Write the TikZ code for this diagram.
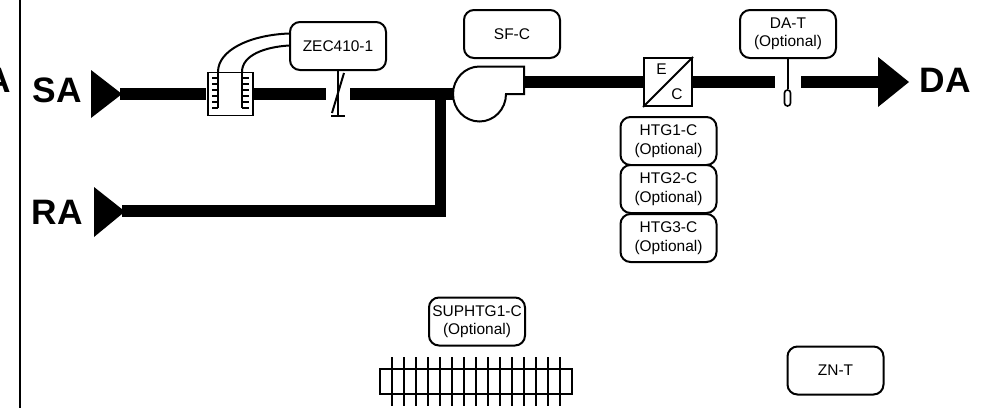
\documentclass[tikz,border=0pt]{standalone}
\usepackage{fontspec}
\setmainfont{Liberation Sans}
\tikzset{
  ctrl/.style={draw=black,line width=1.5pt,rounded corners=7.5pt,fill=white,minimum width=72pt,minimum height=36pt,inner sep=0pt,align=center,font=\fontsize{11.6}{13.8}\selectfont},
  big/.style={inner sep=0pt,font=\fontsize{26.5}{28}\selectfont\bfseries},
  duct/.style={line width=8.8pt,line cap=butt},
  wire/.style={line width=1.5pt},
  thick wire/.style={line width=2pt},
  thin wire/.style={line width=1.2pt},
  head/.style={fill=black,draw=none},
  ltr/.style={inner sep=0pt,font=\fontsize{11.6}{14}\selectfont}
}
\begin{document}
\begin{tikzpicture}[x=0.75pt,y=-0.75pt]
\useasboundingbox (0,0) rectangle (993,408);
% frame line
\coordinate (ft) at (20,0); \coordinate (fb) at (20,408);
\draw[wire] (ft) -- (fb);
\begin{scope}
\clip (0,0) rectangle (19,408);
\node[big,anchor=east] (cutda) at (11,80.5) {A};
\end{scope}
% labels
\node[big] (salbl) at (57,90.5) {SA};
\node[big] (ralbl) at (57.5,212.5) {RA};
\node[big] (dalbl) at (945.5,80) {DA};
% coordinates on ducts
\coordinate (sa) at (120,94);
\coordinate (sa1) at (206,94);
\coordinate (sa2) at (254,94);
\coordinate (sa3) at (326,94);
\coordinate (sa4) at (350,94);
\coordinate (fanin) at (456,94);
\coordinate (ra) at (122,211);
\coordinate (corner) at (440.5,211);
\coordinate (tee) at (440.5,94);
\coordinate (fanout) at (524,82);
\coordinate (e1) at (644,82);
\coordinate (e2) at (692,82);
\coordinate (t1) at (775,82);
\coordinate (t2) at (801,82);
\coordinate (da) at (880,82);
% ducts
\draw[duct] (sa) -- (sa1);
\draw[duct] (sa2) -- (sa3);
\draw[duct] (sa4) -- (fanin);
\draw[duct,line join=miter] (ra) -- (corner) -- (tee);
\draw[duct] (fanout) -- (e1);
\draw[duct] (e2) -- (t1);
\draw[duct] (t2) -- (da);
% arrowheads
\fill[head] (91,70) -- (122,94) -- (91,118) -- cycle;
\fill[head] (94,187) -- (125,211.5) -- (94,237) -- cycle;
\fill[head] (878,57) -- (909,82) -- (878,107) -- cycle;
% controllers
\node[ctrl] (zec) at (338,46) {ZEC410-1};
\node[ctrl] (sfc) at (512,34) {SF-C};
\node[ctrl] (dat) at (788,34) {DA-T\\(Optional)};
\node[ctrl] (htg1) at (668.5,141) {HTG1-C\\(Optional)};
\node[ctrl] (htg2) at (668.5,189) {HTG2-C\\(Optional)};
\node[ctrl] (htg3) at (668.5,238) {HTG3-C\\(Optional)};
\node[ctrl] (sup) at (477,321.5) {SUPHTG1-C\\(Optional)};
\node[ctrl] (znt) at (835.5,370.5) {ZN-T};
% filter / flow station
\node[draw=black,line width=1.2pt,fill=white,minimum width=33.4pt,minimum height=32pt,inner sep=0pt] (filter) at (230.5,94) {};
\coordinate (w1) at (218,108);
\coordinate (w2) at (242,108);
\draw[wire] (zec.west |- 0,33.5) .. controls (250,35) and (218,50) .. (218,72);
\draw[wire] (zec.west |- 0,45.5) .. controls (265,47) and (242,55) .. (242,72);
\draw[thick wire] (218,72) -- (w1);
\draw[thick wire] (242,72) -- (w2);
\foreach \y in {78,84,90,96,102,108}{
  \draw[thin wire] (212,\y) -- (218,\y);
  \draw[thin wire] (242,\y) -- (248.5,\y);
}
% damper
\coordinate (dampb) at (338,116);
\draw[wire] (zec.south -| dampb) -- (dampb);
\draw[wire] (331,116) -- (345,116);
\draw[wire] (344,73) -- (332,113);
% fan
\draw[wire,fill=white] (524,94) -- (506,94) arc[start angle=0,end angle=270,x radius=26.5,y radius=27.5] -- (524,66.5) -- cycle;
% E/C box
\node[draw=black,line width=1.5pt,fill=white,minimum width=36pt,minimum height=36pt,inner sep=0pt] (ec) at (668,82) {};
\draw[wire] (ec.south west) -- (ec.north east);
\node[ltr] (elbl) at (661.5,69.5) {E};
\node[ltr] (clbl) at (677,94) {C};
% temperature sensor
\node[draw=black,line width=1.2pt,rounded corners=2.2pt,fill=white,minimum width=4.5pt,minimum height=12pt,inner sep=0pt] (bulb) at (787.5,98) {};
\draw[wire] (dat.south -| bulb) -- (bulb.north);
% supplemental coil
\node[draw=black,line width=1.5pt,minimum width=144pt,minimum height=18.5pt,inner sep=0pt] (coil) at (476,381.5) {};
\foreach \i in {0,...,14}{
  \draw[wire] ({392+12*\i},357) -- ({392+12*\i},406);
}
\end{tikzpicture}
\end{document}
